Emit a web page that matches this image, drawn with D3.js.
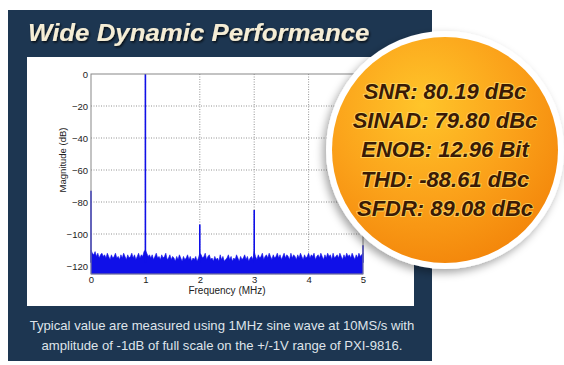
<!DOCTYPE html>
<html>
  <head>
    <meta charset="utf-8" />
    <title>Wide Dynamic Performance</title>
    <script src="https://d3js.org/d3.v7.min.js"></script>
    <style>
      body {
        margin: 0px;
        background-color: white;
      }

      .tick text {
        font-family: "Liberation Sans", Arial, sans-serif;
        font-size: 9.5px;
        fill: #222;
      }
    </style>
</head>
<body>
    <svg id="chart"></svg>

    <script>
      // spectrum noise floor, one value per 0.025 MHz from 0 to 5 MHz (dB)
      var noiseFloor = [
        -110,-112,-113,-111,-114,-112,-115,-113,-112,-114,
        -113,-115,-112,-114,-116,-113,-115,-114,-112,-115,
        -114,-116,-113,-115,-112,-114,-116,-113,-115,-114,
        -112,-115,-113,-116,-114,-112,-115,-113,-114,-111,
        -110,
        -112,-114,-113,-115,-113,-116,-114,-112,-115,-114,
        -116,-113,-115,-114,-112,-116,-115,-113,-116,-114,
        -115,-117,-114,-116,-113,-115,-117,-114,-116,-115,
        -113,-116,-114,-117,-115,-116,-114,-117,-115,
        -112,
        -113,-115,-114,-112,-116,-114,-113,-116,-115,-117,
        -114,-116,-115,-117,-113,-116,-114,-117,-116,-115,
        -113,-116,-114,-117,-115,-116,-113,-115,-117,-114,
        -116,-115,-113,-116,-114,-117,-115,-114,-116,
        -111,
        -114,-116,-113,-115,-114,-112,-116,-114,-113,-115,
        -112,-114,-116,-113,-115,-114,-112,-115,-113,-116,
        -114,-112,-115,-113,-114,-116,-112,-115,-113,-114,
        -116,-113,-115,-112,-114,-116,-113,-115,-114,
        -112,
        -115,-113,-114,-112,-116,-114,-113,-115,-112,-114,
        -116,-113,-115,-112,-114,-113,-116,-112,-115,-114,
        -113,-115,-112,-114,-116,-113,-115,-112,-114,-113,
        -115,-112,-114,-116,-113,-115,-112,-114,-113,
        -112
      ];

      // DC, fundamental and harmonics
      var spikeFreqs = [0, 1, 2, 3, 5];
      var spikeLevels = [-73, 0, -94, -85, -107];

      var xTicks = [0, 1, 2, 3, 4, 5];
      var yTicks = [0, -20, -40, -60, -80, -100, -120];

      var specs = [
        "SNR: 80.19 dBc",
        "SINAD: 79.80 dBc",
        "ENOB: 12.96 Bit",
        "THD: -88.61 dBc",
        "SFDR: 89.08 dBc"
      ];

      var captionLines = [
        "Typical value are measured using 1MHz sine wave  at 10MS/s with",
        "amplitude of -1dB of full scale on the +/-1V range of PXI-9816."
      ];

      var width = 564, height = 365;
      var font = "'Liberation Sans', Arial, sans-serif";

      var svg = d3.select("#chart")
        .attr("width", width)
        .attr("height", height);

      var defs = svg.append("defs");

      var grad = defs.append("radialGradient")
        .attr("id", "orange")
        .attr("cx", "40%").attr("cy", "30%").attr("r", "75%");
      grad.append("stop").attr("offset", "0%").attr("stop-color", "#ffc52a");
      grad.append("stop").attr("offset", "55%").attr("stop-color", "#fba21a");
      grad.append("stop").attr("offset", "100%").attr("stop-color", "#f3850a");

      var shadow = defs.append("filter").attr("id", "shadow")
        .attr("x", "-20%").attr("y", "-20%").attr("width", "140%").attr("height", "140%");
      shadow.append("feDropShadow")
        .attr("dx", -3).attr("dy", 4).attr("stdDeviation", 4)
        .attr("flood-color", "#000").attr("flood-opacity", 0.35);

      var titleShadow = defs.append("filter").attr("id", "tshadow");
      titleShadow.append("feDropShadow")
        .attr("dx", 1).attr("dy", 1.5).attr("stdDeviation", 0.8)
        .attr("flood-color", "#000").attr("flood-opacity", 0.8);

      // navy panel and white plot card
      svg.append("rect")
        .attr("x", 8).attr("y", 10).attr("width", 424).attr("height", 351)
        .attr("fill", "#1d3651");

      svg.append("rect")
        .attr("x", 27).attr("y", 57).attr("width", 387).attr("height", 249)
        .attr("fill", "white");

      // title, stretched a bit wider like the original lettering
      svg.append("text")
        .attr("transform", "translate(28,41) scale(1.1,1)")
        .attr("font-family", font)
        .attr("font-size", 23.5)
        .attr("font-weight", "bold")
        .attr("font-style", "italic")
        .attr("fill", "#f5edd5")
        .attr("filter", "url(#tshadow)")
        .text("Wide Dynamic Performance");

      // scales
      var x = d3.scaleLinear().domain([0, 5]).range([91, 363]);
      var y = d3.scaleLinear().domain([-125, 0]).range([274, 74]);

      var plot = svg.append("g");

      // grid
      plot.selectAll(".vgrid")
        .data(xTicks.slice(1, -1))
        .enter().append("line")
        .attr("x1", function(d){ return x(d); })
        .attr("x2", function(d){ return x(d); })
        .attr("y1", y(0)).attr("y2", y(-125))
        .attr("stroke", "#777").attr("stroke-width", 0.8)
        .attr("stroke-dasharray", "1,1.5");

      plot.selectAll(".hgrid")
        .data(yTicks.slice(1))
        .enter().append("line")
        .attr("y1", function(d){ return y(d); })
        .attr("y2", function(d){ return y(d); })
        .attr("x1", x(0)).attr("x2", x(5))
        .attr("stroke", "#777").attr("stroke-width", 0.8)
        .attr("stroke-dasharray", "1,1.5");

      // spectrum
      var step = 5 / (noiseFloor.length - 1);
      var area = d3.area()
        .x(function(d, i){ return x(i * step); })
        .y0(y(-125))
        .y1(function(d){ return y(d); });

      plot.append("path")
        .datum(noiseFloor)
        .attr("d", area)
        .attr("fill", "#1010e8")
        .attr("stroke", "#1010e8")
        .attr("stroke-width", 0.6);

      plot.selectAll(".spike")
        .data(spikeFreqs)
        .enter().append("line")
        .attr("x1", function(d){ return x(d); })
        .attr("x2", function(d){ return x(d); })
        .attr("y1", y(-118))
        .attr("y2", function(d, i){ return y(spikeLevels[i]); })
        .attr("stroke", "#1010e8")
        .attr("stroke-width", 1.6);

      // box
      plot.append("rect")
        .attr("x", x(0)).attr("y", y(0))
        .attr("width", x(5) - x(0)).attr("height", y(-125) - y(0))
        .attr("fill", "none")
        .attr("stroke", "#888").attr("stroke-width", 1);

      // axes
      var yAxis = d3.axisLeft(y).tickValues(yTicks).tickSize(0).tickPadding(3);
      svg.append("g")
        .attr("transform", "translate(" + x(0) + ",0)")
        .call(yAxis)
        .call(function(g){ g.select(".domain").remove(); });

      var xAxis = d3.axisBottom(x).tickValues(xTicks).tickSize(0).tickPadding(2)
        .tickFormat(d3.format("d"));
      svg.append("g")
        .attr("transform", "translate(0," + y(-125) + ")")
        .call(xAxis)
        .call(function(g){ g.select(".domain").remove(); });

      svg.append("text")
        .attr("x", 227).attr("y", 294)
        .attr("text-anchor", "middle")
        .attr("font-family", font).attr("font-size", 10)
        .attr("fill", "#222")
        .text("Frequency (MHz)");

      svg.append("text")
        .attr("transform", "translate(66,160) rotate(-90)")
        .attr("text-anchor", "middle")
        .attr("font-family", font).attr("font-size", 9.5)
        .attr("fill", "#222")
        .text("Magnitude (dB)");

      // caption
      svg.selectAll(".caption")
        .data(captionLines)
        .enter().append("text")
        .attr("transform", function(d, i){
          return "translate(222," + (330 + i * 20) + ") scale(1.05,1)";
        })
        .attr("text-anchor", "middle")
        .attr("font-family", font).attr("font-size", 12.5)
        .attr("fill", "#dfe4ea")
        .text(function(d){ return d; });

      // badge
      var cx = 445, cy = 150;
      svg.append("circle")
        .attr("cx", cx).attr("cy", cy).attr("r", 119)
        .attr("fill", "white")
        .attr("filter", "url(#shadow)");

      svg.append("circle")
        .attr("cx", cx).attr("cy", cy).attr("r", 113)
        .attr("fill", "url(#orange)");

      svg.selectAll(".spec")
        .data(specs)
        .enter().append("text")
        .attr("x", cx)
        .attr("y", function(d, i){ return 99 + i * 29.2; })
        .attr("text-anchor", "middle")
        .attr("font-family", font)
        .attr("font-size", 22)
        .attr("font-weight", "bold")
        .attr("font-style", "italic")
        .attr("fill", "#3a1a05")
        .attr("stroke", "#ffdf70")
        .attr("stroke-width", 2)
        .attr("stroke-opacity", 0.7)
        .attr("paint-order", "stroke")
        .text(function(d){ return d; });
    </script>
</body>
</html>
